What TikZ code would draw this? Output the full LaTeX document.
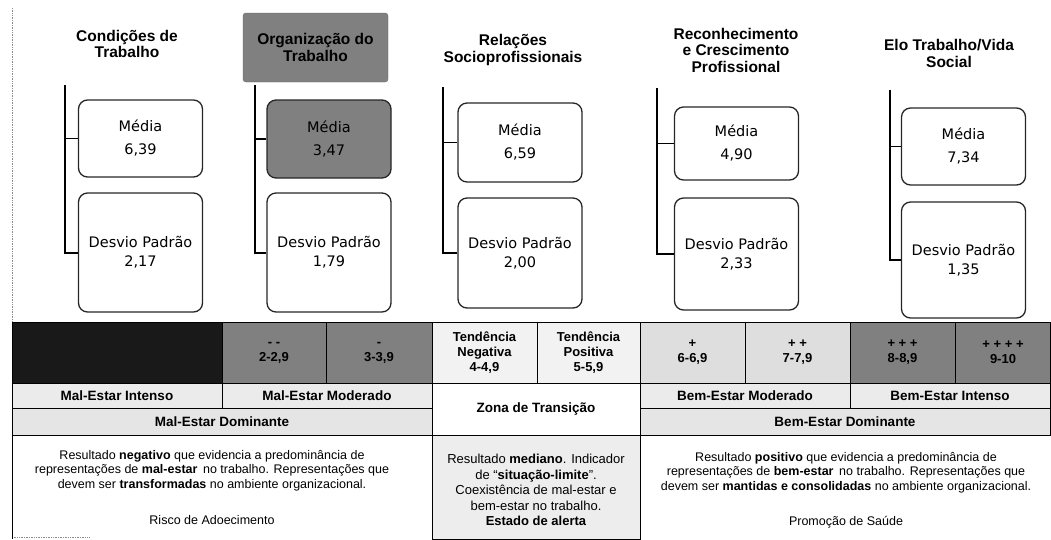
\documentclass[tikz,border=0pt]{standalone}
\usepackage{fontspec}
\setmainfont{Liberation Sans}
\newfontfamily\boxfont{DejaVu Sans}
\usepackage{tikz}
\usepackage{xcolor}

\begin{document}
\begin{tikzpicture}[x=1pt, y=-1pt,
    head/.style={font=\fontsize{15.5}{16.5}\selectfont\bfseries, align=center},
    valbox/.style={draw=black!85, line width=1.3pt, rounded corners=9pt, minimum width=124pt,
        align=center, inner sep=0pt, font=\boxfont\fontsize{14.5}{17}\selectfont},
    bar/.style={line width=2pt},
    tick/.style={line width=1.4pt},
    grid/.style={draw=black, line width=0.8pt},
    lbl/.style={align=center, inner sep=0pt, font=\fontsize{13}{15}\selectfont\bfseries},
    desc/.style={align=center, inner sep=0pt, font=\fontsize{12.5}{14.5}\selectfont}]
    \useasboundingbox (0,0) rectangle (1051,539);

    % headers
    \node[head] (h1) at (127,44) {Condições de\\Trabalho};
    \node[head, fill=black!50, draw=black!60, rounded corners=3pt,
        minimum width=145pt, minimum height=69pt] (h2) at (315.5,47.5) {Organização do\\Trabalho};
    \node[head] (h3) at (513,50) {Relações\\Socioprofissionais};
    \node[head] (h4) at (736,50) {Reconhecimento\\e Crescimento\\Profissional};
    \node[head] (h5) at (949,53.5) {Elo Trabalho/Vida\\Social};

    % values
    \node[valbox, minimum height=77pt] (m1) at (140.5,138.5) {Média\\[6pt]6,39};
    \node[valbox, minimum height=119pt] (d1) at (140.5,252.5) {Desvio Padrão\\[2pt]2,17};
    \node[valbox, fill=black!50, minimum height=78pt] (m2) at (329,139) {Média\\[6pt]3,47};
    \node[valbox, minimum height=119pt] (d2) at (329,252.5) {Desvio Padrão\\[2pt]1,79};
    \node[valbox, minimum height=79pt] (m3) at (520,142.5) {Média\\[6pt]6,59};
    \node[valbox, minimum height=110pt] (d3) at (520,253) {Desvio Padrão\\[2pt]2,00};
    \node[valbox, minimum height=73pt] (m4) at (736.5,143.5) {Média\\[6pt]4,90};
    \node[valbox, minimum height=112pt] (d4) at (736.5,254) {Desvio Padrão\\[2pt]2,33};
    \node[valbox, minimum height=77pt] (m5) at (963.5,146.5) {Média\\[6pt]7,34};
    \node[valbox, minimum height=116pt] (d5) at (963.5,260) {Desvio Padrão\\[2pt]1,35};

    % brackets
    \coordinate (t1) at (65,85);
    \coordinate (t2) at (255,85);
    \coordinate (t3) at (443,87);
    \coordinate (t4) at (657,88);
    \coordinate (t5) at (890,90);
    \draw[bar] (t1) |- (d1.west);
    \draw[tick] (t1 |- m1.west) -- (m1.west);
    \draw[bar] (t2) |- (d2.west);
    \draw[tick] (t2 |- m2.west) -- (m2.west);
    \draw[bar] (t3) |- (d3.west);
    \draw[tick] (t3 |- m3.west) -- (m3.west);
    \draw[bar] (t4) |- (d4.west);
    \draw[tick] (t4 |- m4.west) -- (m4.west);
    \draw[bar] (t5) |- (d5.west);
    \draw[tick] (t5 |- m5.west) -- (m5.west);

    % left frame
    \draw[black!45, densely dotted, line width=0.7pt] (12,8) -- (12,322);
    \draw[black!45, densely dotted, line width=0.7pt] (12,537) -- (90,537);

    % scale, row 1
    \filldraw[grid, fill=black!90] (12,322) rectangle (222,383);
    \filldraw[grid, fill=black!50] (222,322) rectangle (326,383);
    \filldraw[grid, fill=black!50] (326,322) rectangle (432,383);
    \filldraw[grid, fill=black!5] (432,322) rectangle (537,383);
    \filldraw[grid, fill=black!5] (537,322) rectangle (640,383);
    \filldraw[grid, fill=black!13] (640,322) rectangle (745,383);
    \filldraw[grid, fill=black!13] (745,322) rectangle (850,383);
    \filldraw[grid, fill=black!50] (850,322) rectangle (955,383);
    \filldraw[grid, fill=black!50] (955,322) rectangle (1050.5,383);
    \node[lbl] (s3) at (274,352.5) {- -\\2-2,9};
    \node[lbl] (s4) at (379,352.5) {-\\3-3,9};
    \node[lbl] (s5) at (484.5,352.5) {Tendência\\Negativa\\4-4,9};
    \node[lbl] (s6) at (588.5,352.5) {Tendência\\Positiva\\5-5,9};
    \node[lbl] (s7) at (692.5,352.5) {+\\6-6,9};
    \node[lbl] (s8) at (797.5,352.5) {+ +\\7-7,9};
    \node[lbl] (s9) at (902.5,352.5) {+ + +\\8-8,9};
    \node[lbl] (s10) at (1003,352.5) {+ + + +\\9-10};

    % rows 2 and 3
    \filldraw[grid, fill=black!8] (12,383) rectangle (222,408);
    \filldraw[grid, fill=black!8] (222,383) rectangle (432,408);
    \filldraw[grid, fill=white] (432,383) rectangle (640,435);
    \filldraw[grid, fill=black!8] (640,383) rectangle (850,408);
    \filldraw[grid, fill=black!8] (850,383) rectangle (1050.5,408);
    \filldraw[grid, fill=black!10] (12,408) rectangle (432,435);
    \filldraw[grid, fill=black!10] (640,408) rectangle (1050.5,435);
    \node[lbl, font=\fontsize{13.5}{15}\selectfont\bfseries] (mi) at (117,395.5) {Mal-Estar Intenso};
    \node[lbl, font=\fontsize{13.5}{15}\selectfont\bfseries] (mm) at (327,395.5) {Mal-Estar Moderado};
    \node[lbl, font=\fontsize{13.5}{15}\selectfont\bfseries] (zt) at (536,409) {Zona de Transição};
    \node[lbl, font=\fontsize{13.5}{15}\selectfont\bfseries] (bm) at (745,395.5) {Bem-Estar Moderado};
    \node[lbl, font=\fontsize{13.5}{15}\selectfont\bfseries] (bi) at (950,395.5) {Bem-Estar Intenso};
    \node[lbl, font=\fontsize{13.5}{15}\selectfont\bfseries] (md) at (222,421.5) {Mal-Estar Dominante};
    \node[lbl, font=\fontsize{13.5}{15}\selectfont\bfseries] (bd) at (845,421.5) {Bem-Estar Dominante};

    % row 4
    \draw[grid] (12,435) -- (12,539);
    \filldraw[grid, fill=black!7] (432,435) rectangle (640,539);
    \node[desc, anchor=north] (r1) at (212,450) {Resultado \textbf{negativo} que evidencia a predominância de\\
        representações de \textbf{mal-estar}\, no trabalho. Representações que\\
        devem ser \textbf{transformadas} no ambiente organizacional.};
    \node[desc] (r2) at (212,520) {Risco de Adoecimento};
    \node[desc, font=\fontsize{13}{15.5}\selectfont] (z1) at (536,490) {Resultado \textbf{mediano}. Indicador\\
        de ``\textbf{situação-limite}''.\\Coexistência de mal-estar e\\
        bem-estar no trabalho.\\\textbf{Estado de alerta}};
    \node[desc, anchor=north] (p1) at (846,452) {Resultado \textbf{positivo} que evidencia a predominância de\\
        representações de \textbf{bem-estar}\, no trabalho. Representações que\\
        devem ser \textbf{mantidas e consolidadas} no ambiente organizacional.};
    \node[desc] (p2) at (846,522) {Promoção de Saúde};
\end{tikzpicture}
\end{document}
